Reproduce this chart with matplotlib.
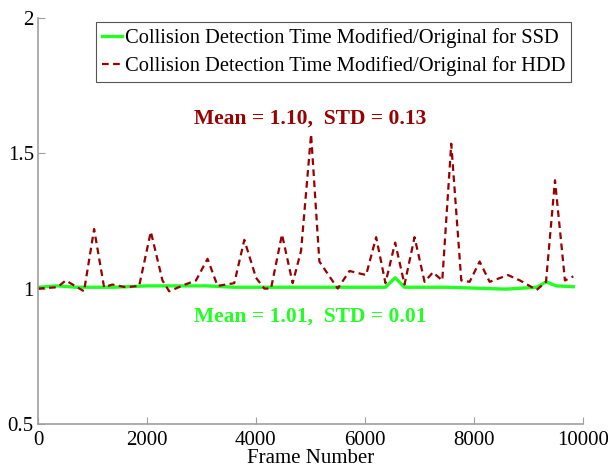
import matplotlib
matplotlib.use('Agg')
import matplotlib.pyplot as plt

plt.rcParams['font.family'] = ['Liberation Serif', 'DejaVu Serif']

# HDD: modified/original collision detection time
hdd_frames = [0, 355, 510, 845, 1030, 1213, 1365, 1610, 1857, 2071, 2285, 2408,
              2700, 2900, 3112, 3296, 3603, 3787, 4002, 4154, 4277, 4479, 4675,
              4829, 5013, 5165, 5502, 5717, 6023, 6207, 6378, 6556, 6728, 6912,
              7096, 7249, 7421, 7586, 7770, 7923, 8107, 8290, 8627, 8848, 9154,
              9325, 9490, 9673, 9826]
hdd_ratio = [1.0, 1.005, 1.03, 0.99, 1.22, 1.005, 1.015, 1.005, 1.01, 1.21, 1.03, 0.99,
             1.015, 1.03, 1.11, 1.01, 1.02, 1.18, 1.04, 1.0, 1.0, 1.20, 1.02,
             1.14, 1.57, 1.10, 1.0, 1.065, 1.05, 1.19, 1.02, 1.17, 1.015, 1.19,
             1.025, 1.06, 1.03, 1.535, 1.03, 1.025, 1.10, 1.025, 1.05, 1.03, 0.995,
             1.025, 1.40, 1.03, 1.045]

# SSD: modified/original collision detection time
ssd_frames = [0, 355, 700, 1400, 2000, 2600, 3100, 3600, 4500, 5500, 6200,
              6378, 6556, 6728, 7500, 8590, 9154, 9330, 9510, 9826]
ssd_ratio = [1.005, 1.01, 1.005, 1.005, 1.01, 1.01, 1.01, 1.005, 1.005, 1.005, 1.005,
             1.005, 1.04, 1.005, 1.005, 0.998, 1.005, 1.025, 1.01, 1.007]

ssd_label = 'Collision Detection Time Modified/Original for SSD'
hdd_label = 'Collision Detection Time Modified/Original for HDD'
hdd_text = 'Mean = 1.10,  STD = 0.13'
ssd_text = 'Mean = 1.01,  STD = 0.01'

fig = plt.figure(figsize=(6.08, 4.69), dpi=100)
ax = fig.add_axes([0.0625, 0.096, 0.896, 0.866])

ax.plot(ssd_frames, ssd_ratio, color='#22ff22', lw=2.4, label=ssd_label)
ax.plot(hdd_frames, hdd_ratio, color='#990000', lw=1.6, ls=(0, (3, 2)), label=hdd_label)

ax.set_xlim(0, 10000)
ax.set_ylim(0.5, 2)
ax.set_xticks([0, 2000, 4000, 6000, 8000, 10000])
ax.set_yticks([0.5, 1, 1.5, 2])
ax.set_yticklabels(['0.5', '1', '1.5', '2'])

for s in ['top', 'right']:
    ax.spines[s].set_visible(False)
for s in ['left', 'bottom']:
    ax.spines[s].set_color('#a0a0a0')
    ax.spines[s].set_linewidth(1.2)
ax.tick_params(direction='in', color='#a0a0a0', labelsize=15, pad=3, length=5)
ax.tick_params(axis='x', pad=5)
ax.set_xlabel('Frame Number', fontsize=15, labelpad=-1)

ax.text(5000, 1.628, hdd_text, color='#990000', fontsize=15.5, fontweight='bold',
        ha='center', va='center')
ax.text(5000, 0.898, ssd_text, color='#22ff22', fontsize=15.5, fontweight='bold',
        ha='center', va='center')

leg = ax.legend(loc='upper left', bbox_to_anchor=(0.106, 0.99), fontsize=14.8,
                handlelength=1.0, handletextpad=0.1, borderpad=0.3,
                labelspacing=0.4, fancybox=False, framealpha=1, borderaxespad=0.0)
leg.get_frame().set_edgecolor('#555555')
leg.get_frame().set_linewidth(0.8)

fig.savefig('out.png', dpi=100)
